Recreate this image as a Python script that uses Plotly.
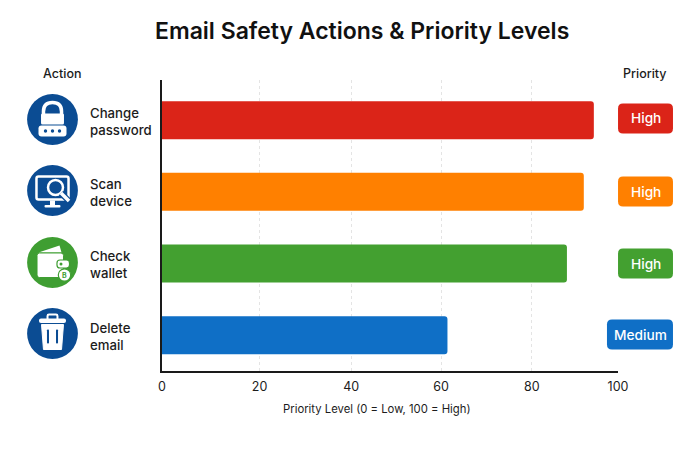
import plotly.graph_objects as go

W, H = 700, 450
FONT = "Inter"
INK = "#1c1c1c"
NAVY = "#0b4c93"

actions = ["Change<br>password", "Scan<br>device", "Check<br>wallet", "Delete<br>email"]
priority_values = [94.7, 92.5, 88.8, 62.6]
priority_labels = ["High", "High", "High", "Medium"]
bar_colors = ["#db2418", "#ff8000", "#43a030", "#0f6fc6"]
# gridlines in the reference are not evenly spaced from 0, so ticks sit where it drew them
tick_vals = [0, 21.4, 41.5, 61.2, 81.1, 100]
tick_labels = ["0", "20", "40", "60", "80", "100"]
icon_colors = [NAVY, NAVY, "#3f9e32", NAVY]


def px(x):
    return x / W


def py(y):
    return 1 - y / H


def path(points, close=True):
    s = "M" + " L".join(f"{px(x):.4f},{py(y):.4f}" for x, y in points)
    return s + (" Z" if close else "")


shapes = []


def rect(x0, y0, x1, y1, color, r=0, line=None, lw=0):
    # rounded rectangle in pixel coordinates
    if r:
        d = (
            f"M{px(x0 + r):.4f},{py(y0):.4f} L{px(x1 - r):.4f},{py(y0):.4f} "
            f"Q{px(x1):.4f},{py(y0):.4f} {px(x1):.4f},{py(y0 + r):.4f} "
            f"L{px(x1):.4f},{py(y1 - r):.4f} Q{px(x1):.4f},{py(y1):.4f} {px(x1 - r):.4f},{py(y1):.4f} "
            f"L{px(x0 + r):.4f},{py(y1):.4f} Q{px(x0):.4f},{py(y1):.4f} {px(x0):.4f},{py(y1 - r):.4f} "
            f"L{px(x0):.4f},{py(y0 + r):.4f} Q{px(x0):.4f},{py(y0):.4f} {px(x0 + r):.4f},{py(y0):.4f} Z"
        )
        shapes.append(dict(type="path", path=d, xref="paper", yref="paper", fillcolor=color,
                           line=dict(width=lw, color=line or color)))
    else:
        shapes.append(dict(type="rect", x0=px(x0), x1=px(x1), y0=py(y0), y1=py(y1), xref="paper",
                           yref="paper", fillcolor=color, line=dict(width=lw, color=line or color)))


def circle(cx, cy, r, color, line=None, lw=0):
    shapes.append(dict(type="circle", xref="paper", yref="paper", x0=px(cx - r), x1=px(cx + r),
                       y0=py(cy + r), y1=py(cy - r), fillcolor=color,
                       line=dict(width=lw, color=line or color)))


def stroke(points, color, lw):
    shapes.append(dict(type="path", path=path(points, close=False), xref="paper", yref="paper",
                       line=dict(width=lw, color=color)))


def lock_icon(cx, cy):
    circle(cx, cy, 25.4, NAVY)
    # shackle
    d = (f"M{px(cx - 9):.4f},{py(cy - 2):.4f} L{px(cx - 9):.4f},{py(cy - 8):.4f} "
         f"Q{px(cx - 9):.4f},{py(cy - 17):.4f} {px(cx):.4f},{py(cy - 17):.4f} "
         f"Q{px(cx + 9):.4f},{py(cy - 17):.4f} {px(cx + 9):.4f},{py(cy - 8):.4f} "
         f"L{px(cx + 9):.4f},{py(cy - 2):.4f}")
    shapes.append(dict(type="path", path=d, xref="paper", yref="paper", line=dict(width=3.5, color="white")))
    rect(cx - 11.5, cy - 6, cx + 11.5, cy + 5, "white", r=1.5)
    rect(cx - 14, cy + 6, cx + 14, cy + 17, "white", r=3)
    for dx in (-7, 0, 7):
        circle(cx + dx, cy + 11.5, 1.7, NAVY)


def monitor_icon(cx, cy):
    circle(cx, cy, 25.4, NAVY)
    rect(cx - 16, cy - 14, cx + 16, cy + 9, NAVY, r=2, line="white", lw=2.5)
    rect(cx - 2.5, cy + 10, cx + 2.5, cy + 15, "white")
    rect(cx - 8, cy + 14.5, cx + 8, cy + 17, "white", r=1)
    circle(cx + 3, cy - 3, 7.5, NAVY, line="white", lw=2.5)
    stroke([(cx + 8.5, cy + 2.5), (cx + 17, cy + 11)], NAVY, 6)
    stroke([(cx + 8.5, cy + 2.5), (cx + 16.5, cy + 10.5)], "white", 3.5)


def wallet_icon(cx, cy):
    green = icon_colors[2]
    circle(cx, cy, 25.4, green)
    shapes.append(dict(type="path", path=path([(cx - 14, cy - 10), (cx + 7, cy - 17), (cx + 9, cy - 10)]),
                       xref="paper", yref="paper", fillcolor="white", line=dict(width=0, color="white")))
    rect(cx - 15.5, cy - 9.5, cx + 11, cy + 15, "white", r=2.5, line=green, lw=1)
    rect(cx + 4.5, cy - 2.5, cx + 17, cy + 5.5, "white", r=3, line=green, lw=1.2)
    circle(cx + 8.5, cy + 1.5, 1.5, green)
    circle(cx + 12, cy + 12.5, 6.2, "white", line=green, lw=1.2)


def trash_icon(cx, cy):
    circle(cx, cy, 25.4, NAVY)
    rect(cx - 5, cy - 19, cx + 5, cy - 13, NAVY, r=1.5, line="white", lw=2)
    rect(cx - 13.5, cy - 15, cx + 13.5, cy - 10.5, "white", r=2)
    shapes.append(dict(type="path", path=path([(cx - 11, cy - 9), (cx + 11, cy - 9), (cx + 9, cy + 16),
                                               (cx - 9, cy + 16)]),
                       xref="paper", yref="paper", fillcolor="white", line=dict(width=1, color="white")))
    for dx in (-4.5, 4.5):
        rect(cx + dx - 1, cy - 4, cx + dx + 1, cy + 10, NAVY, r=0.8)


positions = list(range(len(actions)))

fig = go.Figure(
    go.Bar(
        x=priority_values,
        y=positions,
        orientation="h",
        width=0.53,
        marker=dict(color=bar_colors, line=dict(width=0)),
        hoverinfo="x",
    )
)

icon_y = [119.5, 190.5, 262.5, 333.5]
lock_icon(52.5, icon_y[0])
monitor_icon(52.5, icon_y[1])
wallet_icon(52.5, icon_y[2])
trash_icon(52.5, icon_y[3])


def label(text, x, y, size, color=INK, weight=500, **kw):
    return dict(text=text, x=px(x), y=py(y), xref="paper", yref="paper", xanchor="center", yanchor="middle",
                showarrow=False, font=dict(size=size, color=color, family=FONT, weight=weight), **kw)


annotations = [
    label("Email Safety Actions &amp; Priority Levels", 362, 31, 23, color="#111111", weight=600),
    label("Action", 61.5, 74, 12.5),
    label("Priority", 645, 74, 12.5),
    label("Priority Level (0 = Low, 100 = High)", 377, 409, 11.3, weight=400),
    label("B", 64.5, 275, 7, color=icon_colors[2], weight=700),
]

for i, action in enumerate(actions):
    annotations.append(dict(text=action, x=px(88), y=i, xref="paper", yref="y", xanchor="left", yanchor="middle",
                            align="left", showarrow=False, yshift=-1,
                            font=dict(size=13.2, color=INK, family=FONT, weight=500)))
    left = 607 if priority_labels[i] == "Medium" else 618
    cy = [118.5, 191.5, 263.5, 334.5][i]
    rect(left, cy - 15, 673, cy + 15, bar_colors[i], r=5)
    annotations.append(label(priority_labels[i], (left + 673) / 2, cy, 13.7, color="white"))

fig.update_layout(
    width=W,
    height=H,
    margin=dict(l=0, r=0, t=0, b=0, autoexpand=False),
    paper_bgcolor="white",
    plot_bgcolor="white",
    barcornerradius=3,
    showlegend=False,
    shapes=shapes,
    annotations=annotations,
    font=dict(family=FONT, color=INK),
)
fig.update_xaxes(
    domain=[px(162), px(618)],
    range=[0, 100],
    tickmode="array",
    tickvals=tick_vals,
    ticktext=tick_labels,
    tickfont=dict(size=12.5),
    ticks="",
    ticklabelstandoff=3,
    showgrid=True,
    gridcolor="#e4e4e4",
    griddash="3px,3px",
    gridwidth=1,
    showline=True,
    linecolor="#1a1a1a",
    linewidth=1.5,
    zeroline=False,
    automargin=False,
)
fig.update_yaxes(
    domain=[py(371), py(80)],
    range=[3.5, -0.56],
    showticklabels=False,
    ticks="",
    showgrid=False,
    showline=True,
    linecolor="#1a1a1a",
    linewidth=1.5,
    zeroline=False,
    automargin=False,
)

fig.write_html("out.html", config=dict(displayModeBar=False), post_script="document.body.style.margin='0';")
